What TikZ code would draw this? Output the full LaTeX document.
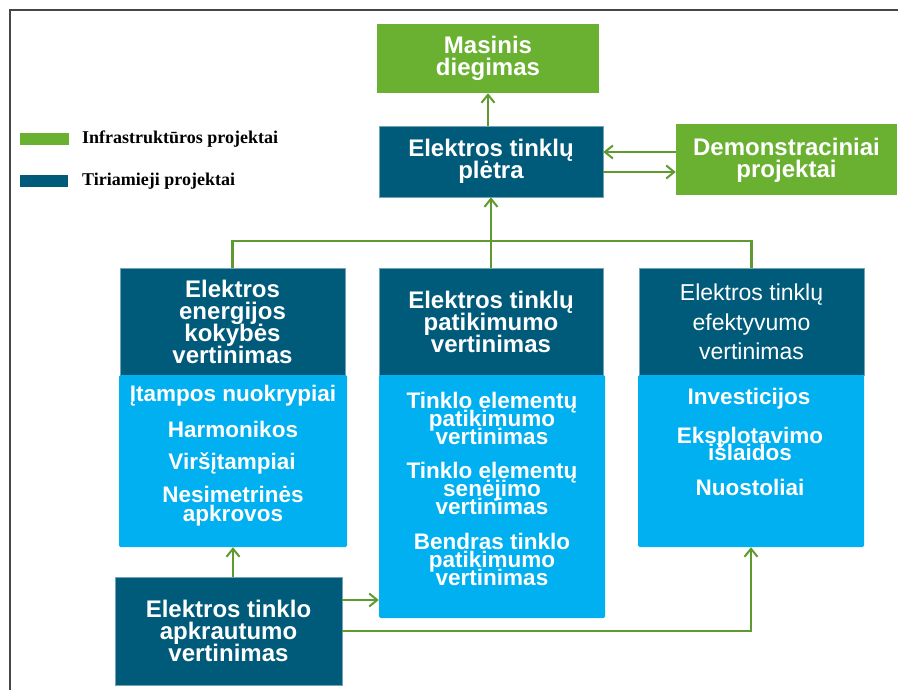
\documentclass[tikz,border=0pt]{standalone}
\usepackage{fontspec}
\setmainfont{Liberation Sans}
\newfontfamily\legendfont{Liberation Serif}
\usetikzlibrary{arrows.meta}
\definecolor{infra}{RGB}{106,177,49}
\definecolor{research}{RGB}{0,90,122}
\definecolor{detail}{RGB}{0,176,240}
\definecolor{link}{RGB}{94,154,48}
\definecolor{frameline}{RGB}{70,70,70}

\begin{document}
\begin{tikzpicture}[x=1pt,y=-1pt,
  tight/.style={execute at begin node={\lineskiplimit=-30pt}},
  box/.style={inner sep=0pt, text=white, align=center, tight,
    font=\fontsize{24}{22}\selectfont\bfseries},
  infrabox/.style={box, fill=infra},
  resbox/.style={box, fill=research, draw=research!55!white, line width=0.6pt},
  detbox/.style={box, fill=detail, rounded corners=1.5pt},
  dettext/.style={text=white, align=center, inner sep=0pt, tight,
    font=\fontsize{22.5}{18.5}\selectfont\bfseries},
  legendtext/.style={anchor=west, inner sep=0pt,
    font=\legendfont\fontsize{18}{20}\selectfont\bfseries},
  wire/.style={draw=link, line width=2.2pt},
  arr/.style={wire, -{Straight Barb[length=8pt,width=13pt,line width=2pt]}},
]
\useasboundingbox (0,0) rectangle (898,690);
\fill[white] (0,0) rectangle (898,690);
\draw[frameline, line width=1.6pt] (10,690) -- (10,10) -- (898,10);

% legend
\node[fill=infra, minimum width=49pt, minimum height=12pt, inner sep=0pt] (lgA) at (44.5,139) {};
\node[legendtext] (lgAt) at (82,139.5) {Infrastruktūros projektai};
\node[fill=research, minimum width=48pt, minimum height=12pt, inner sep=0pt] (lgB) at (44,181) {};
\node[legendtext] (lgBt) at (82,181.5) {Tiriamieji projektai};

% top level
\node[infrabox, minimum width=222pt, minimum height=69pt] (mas) at (488,58.5) {Masinis\\diegimas};
\node[resbox, minimum width=224pt, minimum height=71pt] (plet) at (491,161.5) {Elektros tinklų\\plėtra};
\node[infrabox, minimum width=221pt, minimum height=71pt] (demo) at (786.5,160) {Demonstraciniai\\projektai};

% evaluation headers
\node[resbox, minimum width=225pt, minimum height=107pt] (ld) at (232.5,321.5) {Elektros\\energijos\\kokybės\\vertinimas};
\node[resbox, minimum width=224pt, minimum height=107pt] (md) at (491,321.5) {Elektros tinklų\\patikimumo\\vertinimas};
\node[resbox, minimum width=225pt, minimum height=107pt,
  font=\fontsize{23}{29.5}\selectfont] (rd) at (751.5,322) {Elektros tinklų\\efektyvumo\\vertinimas};

% detail panels
\node[detbox, minimum width=228pt, minimum height=172pt] (ll) at (233,461) {};
\node[detbox, minimum width=226pt, minimum height=243pt] (ml) at (492,496.5) {};
\node[detbox, minimum width=226pt, minimum height=172pt] (rl) at (751,461) {};

\node[dettext] (l1) at (233,396) {Įtampos nuokrypiai};
\node[dettext] (l2) at (233,429) {Harmonikos};
\node[dettext] (l3) at (232,463.5) {Viršįtampiai};
\node[dettext, font=\fontsize{22.5}{19}\selectfont\bfseries] (l4) at (233,506.5) {Nesimetrinės\\apkrovos};

\node[dettext, font=\fontsize{22.5}{18}\selectfont\bfseries] (m1) at (492,418) {Tinklo elementų\\patikimumo\\vertinimas};
\node[dettext, font=\fontsize{22.5}{18}\selectfont\bfseries] (m2) at (492,488) {Tinklo elementų\\senėjimo\\vertinimas};
\node[dettext, font=\fontsize{22.5}{18}\selectfont\bfseries] (m3) at (492,559.5) {Bendras tinklo\\patikimumo\\vertinimas};

\node[dettext] (r1) at (749,399) {Investicijos};
\node[dettext, font=\fontsize{22.5}{17}\selectfont\bfseries] (r2) at (750,443.5) {Eksplotavimo\\išlaidos};
\node[dettext] (r3) at (750,487) {Nuostoliai};

% load assessment
\node[resbox, minimum width=227pt, minimum height=108pt] (bot) at (228.5,631) {Elektros tinklo\\apkrautumo\\vertinimas};

% connectors
\draw[arr] (plet.north -| mas.south) -- (mas.south);
\draw[arr] ([yshift=9.5pt]plet.east -| demo.west) coordinate (d1) -- (d1 -| plet.east);
\draw[arr] ([yshift=-10.5pt]plet.east) coordinate (p1) -- (p1 -| demo.west);

\coordinate (busL) at (ld.north |- 0,241);
\coordinate (busR) at (rd.north |- 0,241);
\draw[wire] (ld.north) -- (busL) -- (busR) -- (rd.north);
\draw[arr] (md.north) -- (plet.south);

\draw[arr] (bot.north -| ll.south) -- (ll.south);
\draw[arr] ([yshift=31pt]bot.east) coordinate (b1) -- (b1 -| ml.west);
\draw[arr] (bot.east) -| (rl.south);
\end{tikzpicture}
\end{document}
